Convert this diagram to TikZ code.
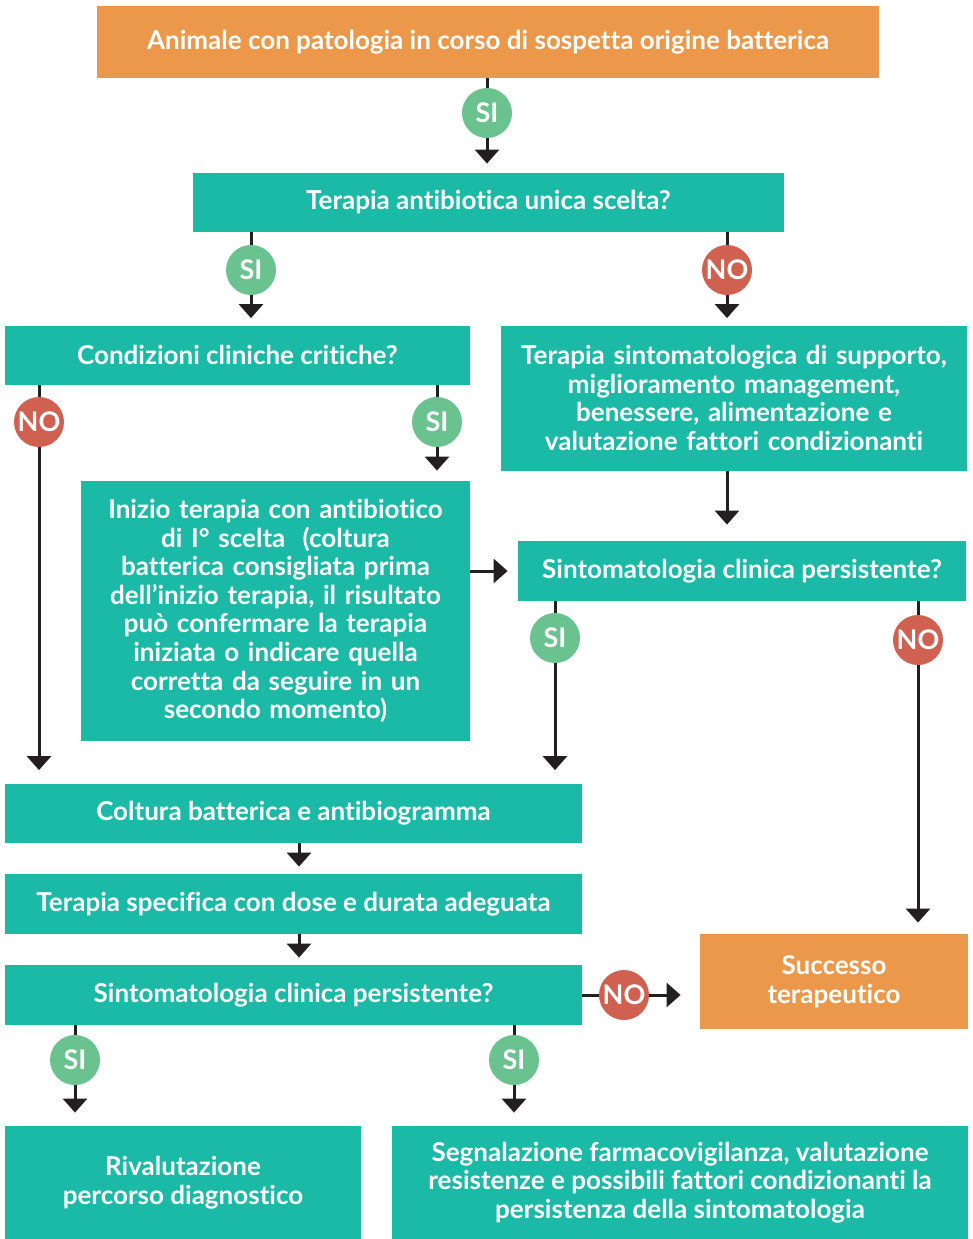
\documentclass[tikz,border=0pt]{standalone}
\usepackage{fontspec}
\setmainfont{Lato}[Ligatures={NoCommon}]
\usetikzlibrary{arrows.meta}

\definecolor{teal1}{HTML}{1ABAA6}
\definecolor{orange1}{HTML}{EB984A}
\definecolor{siGreen}{HTML}{6AC28E}
\definecolor{noRed}{HTML}{D0604F}
\definecolor{arrowInk}{HTML}{231F20}

\begin{document}
\begin{tikzpicture}[x=0.5pt,y=-0.5pt,>={Triangle[width=12pt,length=7pt]},
        box/.style={rectangle,fill=teal1,text=white,inner sep=0pt,align=center,
                font=\fontsize{13}{14.3}\selectfont\bfseries},
        endbox/.style={box,fill=orange1},
        si/.style={circle,fill=siGreen,text=white,minimum size=25pt,inner sep=0pt,
                font=\fontsize{13.5}{13.5}\selectfont\bfseries},
        no/.style={si,fill=noRed},
        link/.style={draw=arrowInk,line width=1.5pt}]
        \useasboundingbox (0,0) rectangle (973,1239);

        % draw the boxes
        \node[endbox,minimum width=391pt,minimum height=36pt] (start) at (488,42)
                {Animale con patologia in corso di sospetta origine batterica};
        \node[box,minimum width=295.5pt,minimum height=29.5pt] (unica) at (488.5,202.5)
                {Terapia antibiotica unica scelta?};
        \node[box,minimum width=232.5pt,minimum height=29.5pt] (critiche) at (237.5,355)
                {Condizioni cliniche critiche?};
        \node[box,minimum width=233pt,minimum height=72.5pt,text width=228pt] (supporto) at (734,398)
                {Terapia sintomatologica di supporto,\\ miglioramento management,\\
                benessere, alimentazione e\\ valutazione fattori condizionanti};
        \node[box,minimum width=194.5pt,minimum height=130pt,text width=190pt] (inizio) at (275.5,611)
                {Inizio terapia con antibiotico\\ di I° scelta\ \ (coltura\\
                batterica consigliata prima\\ dell’inizio terapia, il risultato\\
                può confermare la terapia\\ iniziata o indicare quella\\
                corretta da seguire in un\\ secondo momento)};
        \node[box,minimum width=224pt,minimum height=30pt] (persA) at (742,571)
                {Sintomatologia clinica persistente?};
        \node[box,minimum width=288.5pt,minimum height=29.5pt] (coltura) at (293.5,813)
                {Coltura batterica e antibiogramma};
        \node[box,minimum width=288.5pt,minimum height=30pt] (specifica) at (293.5,904)
                {Terapia specifica con dose e durata adeguata};
        \node[box,minimum width=288.5pt,minimum height=30pt] (persB) at (293.5,995)
                {Sintomatologia clinica persistente?};
        \node[endbox,minimum width=134pt,minimum height=47.5pt] (successo) at (834,981.5)
                {Successo\\ terapeutico};
        \node[box,minimum width=178pt,minimum height=56.5pt] (rival) at (183,1182.5)
                {Rivalutazione\\ percorso diagnostico};
        \node[box,minimum width=288pt,minimum height=56.5pt] (segnal) at (680,1182.5)
                {Segnalazione farmacovigilanza, valutazione\\
                resistenze e possibili fattori condizionanti la\\
                persistenza della sintomatologia};

        % draw the answer circles
        \node[si] (si1) at (487,113) {SI};
        \node[si] (si2) at (251,270) {SI};
        \node[no] (no2) at (727,270) {NO};
        \node[no] (no3) at (39,422) {NO};
        \node[si] (si3) at (437,422) {SI};
        \node[si] (si4) at (555,638) {SI};
        \node[no] (no4) at (918,640) {NO};
        \node[no] (no5) at (624,995) {NO};
        \node[si] (si5) at (75,1060) {SI};
        \node[si] (si6) at (514,1060) {SI};

        % lines into the circles
        \foreach \from/\c in {start/si1,unica/si2,unica/no2,critiche/no3,critiche/si3,
                persA/si4,persA/no4,persB/si5,persB/si6}
                \draw[link] (\from.south -| \c) -- (\c);
        \draw[link] (persB.east |- no5) -- (no5);

        % arrows out of the circles
        \foreach \c/\to/\gap in {si1/unica/4.5pt,si2/critiche/3.5pt,no2/supporto/3.5pt,
                no3/coltura/6.5pt,si3/inizio/5pt,si4/coltura/6.5pt,no4/successo/5.5pt,
                si5/rival/6.5pt,si6/segnal/6.5pt}
                \draw[link,->,shorten >=\gap] (\c) -- (\to.north -| \c);
        \draw[link,->,shorten >=9.5pt] (no5) -- (no5 -| successo.west);

        % plain arrows between boxes
        \draw[link,->,shorten >=8pt] (supporto.south) ++(-7,0) coordinate (s1) -- (s1 |- persA.north);
        \draw[link,->,shorten >=5pt] (inizio.east |- persA) -- (persA.west);
        \draw[link,->,shorten >=3.5pt] (coltura.south -| 299,0) -- (specifica.north -| 299,0);
        \draw[link,->,shorten >=3.5pt] (specifica.south -| 299,0) -- (persB.north -| 299,0);
\end{tikzpicture}
\end{document}
